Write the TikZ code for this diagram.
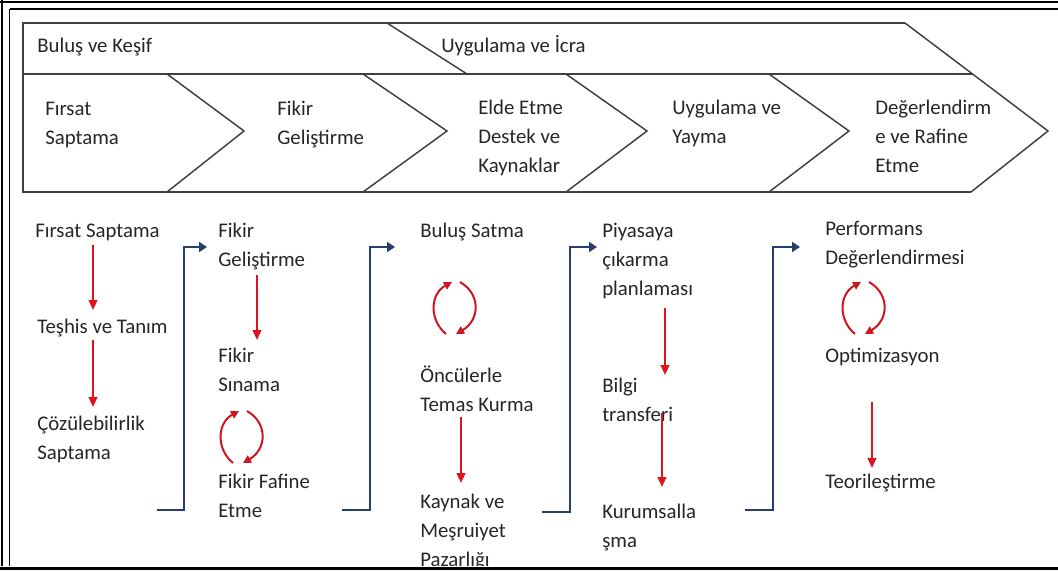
\documentclass[tikz,border=0pt]{standalone}
\usepackage{fontspec}
\setmainfont{Carlito}
\usetikzlibrary{arrows.meta}

\definecolor{chev}{RGB}{64,64,64}
\definecolor{flowred}{RGB}{222,20,28}
\definecolor{loopred}{RGB}{205,22,32}
\definecolor{flowblue}{RGB}{37,64,110}
\definecolor{txt}{RGB}{38,38,38}

% stacked lines of a label, baseline at the first line
\newcommand{\txtlines}[1]{\begin{tabular}[t]{@{}l@{}}#1\end{tabular}}

\tikzset{
  lbl/.style={anchor=base west, inner sep=0pt, text=txt,
              font=\fontsize{15.6}{22}\selectfont},
  chevline/.style={draw=chev, line width=1.1pt, line join=miter},
  redarrow/.style={draw=flowred, line width=1.6pt,
                   -{Triangle[length=7.5pt,width=6.5pt]}},
  bluearrow/.style={draw=flowblue, line width=2.1pt,
                    -{Triangle[length=6pt,width=7.5pt]}},
  pics/cyclearrows/.style={code={
    \draw[draw=loopred, line width=1.5pt, -{Triangle[length=6pt,width=6pt]}]
      (-10,26) .. controls (-27,12) and (-26,-14) .. (-4,-26);
    \draw[draw=loopred, line width=1.5pt, -{Triangle[length=6pt,width=6pt]}]
      (4,-26) .. controls (25,-14) and (24,12) .. (0,26);
  }}
}

\begin{document}
\begin{tikzpicture}[x=0.75pt,y=-0.75pt]
\useasboundingbox (0,0) rectangle (1058,571);
\fill[white] (0,0) rectangle (1058,571);

% ---------- chevron band ----------
\draw[chevline] (905,23) -- (23,23) -- (23,192) -- (971,192);
\draw[chevline] (23,74) -- (973,74);
\draw[chevline] (905,23) -- (1048,131) -- (971,192);
\draw[chevline] (387,23) -- (467,74);
\draw[chevline] (167,74) -- (244,131) -- (167,192);
\draw[chevline] (363,74) -- (447,131) -- (363,192);
\draw[chevline] (566,74) -- (647,131) -- (566,192);
\draw[chevline] (769,74) -- (849,131) -- (769,192);

\node[lbl] (phaseA) at (37,52) {Buluş ve Keşif};
\node[lbl] (phaseB) at (441,52) {Uygulama ve İcra};

\node[lbl] (stepA) at (45,115)  {\txtlines{Fırsat\\Saptama}};
\node[lbl] (stepB) at (277,115) {\txtlines{Fikir\\Geliştirme}};
\node[lbl] (stepC) at (478,114) {\txtlines{Elde Etme\\Destek ve\\Kaynaklar}};
\node[lbl] (stepD) at (672,114) {\txtlines{Uygulama ve\\Yayma}};
\node[lbl] (stepE) at (875,114) {\txtlines{Değerlendirm\\e ve Rafine\\Etme}};

% ---------- column 1 ----------
\node[lbl] (c1a) at (35,237) {Fırsat Saptama};
\node[lbl] (c1b) at (37,333) {Teşhis ve Tanım};
\node[lbl] (c1c) at (37,430) {\txtlines{Çözülebilirlik\\Saptama}};
\coordinate (r1s) at (93,245); \coordinate (r1e) at (93,310);
\coordinate (r2s) at (93,340); \coordinate (r2e) at (93,407);
\draw[redarrow] (r1s) -- (r1e);
\draw[redarrow] (r2s) -- (r2e);

% ---------- column 2 ----------
\node[lbl] (c2a) at (218,237) {\txtlines{Fikir\\Geliştirme}};
\node[lbl] (c2b) at (218,362) {\txtlines{Fikir\\Sınama}};
\node[lbl] (c2c) at (218,488) {\txtlines{Fikir Fafine\\Etme}};
\coordinate (r3s) at (257,275); \coordinate (r3e) at (257,340);
\draw[redarrow] (r3s) -- (r3e);
\pic at (243,437) {cyclearrows};

% ---------- column 3 ----------
\node[lbl] (c3a) at (420,237) {Buluş Satma};
\node[lbl] (c3b) at (420,382) {\txtlines{Öncülerle\\Temas Kurma}};
\node[lbl] (c3c) at (420,508) {\txtlines{Kaynak ve\\Meşruiyet\\Pazarlığı}};
\pic at (456,308) {cyclearrows};
\coordinate (r4s) at (461,417); \coordinate (r4e) at (461,483);
\draw[redarrow] (r4s) -- (r4e);

% ---------- column 4 ----------
\node[lbl] (c4a) at (602,237) {\txtlines{Piyasaya\\çıkarma\\planlaması}};
\node[lbl] (c4b) at (602,392) {\txtlines{Bilgi\\transferi}};
\node[lbl] (c4c) at (602,518) {\txtlines{Kurumsalla\\şma}};
\coordinate (r5s) at (665,308); \coordinate (r5e) at (665,375);
\coordinate (r6s) at (662,413); \coordinate (r6e) at (662,487);
\draw[redarrow] (r5s) -- (r5e);
\draw[redarrow] (r6s) -- (r6e);

% ---------- column 5 ----------
\node[lbl] (c5a) at (825,235) {\txtlines{Performans\\Değerlendirmesi}};
\node[lbl] (c5b) at (825,362) {Optimizasyon};
\node[lbl] (c5c) at (825,488) {Teorileştirme};
\pic at (865,308) {cyclearrows};
\coordinate (r7s) at (872,402); \coordinate (r7e) at (872,468);
\draw[redarrow] (r7s) -- (r7e);

% ---------- stage-to-stage connectors ----------
\coordinate (b1s) at (157,510); \coordinate (b1k) at (184,247); \coordinate (b1e) at (207,247);
\coordinate (b2s) at (342,510); \coordinate (b2k) at (370,247); \coordinate (b2e) at (395,247);
\coordinate (b3s) at (542,512); \coordinate (b3k) at (570,247); \coordinate (b3e) at (597,247);
\coordinate (b4s) at (745,510); \coordinate (b4k) at (773,247); \coordinate (b4e) at (800,247);
\draw[bluearrow] (b1s) -| (b1k) -- (b1e);
\draw[bluearrow] (b2s) -| (b2k) -- (b2e);
\draw[bluearrow] (b3s) -| (b3k) -- (b3e);
\draw[bluearrow] (b4s) -| (b4k) -- (b4e);

% ---------- outer frame ----------
\draw[line width=1.9pt] (0,2) -- (1058,2);
\draw[line width=1.9pt] (2,0) -- (2,571);
\draw[line width=1.2pt] (9.5,9) -- (1058,9);
\draw[line width=1.2pt] (9.5,9) -- (9.5,567);
\fill[white] (0,566) rectangle (1058,571);
\draw[line width=2.4pt] (0,568.5) -- (1058,568.5);
\end{tikzpicture}
\end{document}
